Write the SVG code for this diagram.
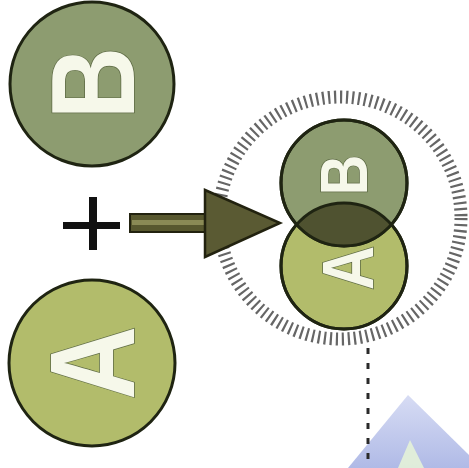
<svg xmlns="http://www.w3.org/2000/svg" width="469" height="468" viewBox="0 0 469 468">
<style>
.circ{stroke:#1f2412;stroke-width:3}
.circB{fill:#8d9c70}
.circA{fill:#b2bc6b}
.lbl{font-family:"Liberation Sans",Arial,sans-serif;font-weight:bold;fill:#f6f8ea;stroke:#5d6a44;stroke-width:1.5;paint-order:stroke;text-anchor:middle}
.ring{fill:none;stroke:#666666;stroke-width:13;stroke-dasharray:2.2 3.8}
.vdash{fill:none;stroke:#2a2a2a;stroke-width:3;stroke-dasharray:6 9}
</style>
<defs>
<clipPath id="clipA"><circle cx="344" cy="266" r="63"/></clipPath>
<linearGradient id="tri" x1="0" y1="0" x2="0" y2="1">
<stop offset="0" stop-color="#d0d6f2"/>
<stop offset="1" stop-color="#a2aee2"/>
</linearGradient>
</defs>
<rect width="469" height="468" fill="#ffffff"/>
<g id="blue-shape">
<polygon points="408,395 348,468 469,468 469,455" fill="url(#tri)" opacity="0.85"/>
<polygon points="410,440 398,468 424,468" fill="#e4f2d8" opacity="0.9"/>
</g>
<g id="connectors">
<circle class="ring" cx="340" cy="218" r="121"/>
<line class="vdash" x1="368" y1="348" x2="368" y2="468"/>
<g id="plus">
<rect x="63" y="222" width="57" height="7" fill="#111"/>
<rect x="89" y="197" width="8" height="53" fill="#111"/>
</g>
<g id="arrow">
<rect x="130" y="214" width="78" height="18" fill="#58582f" stroke="#22220f" stroke-width="2"/>
<rect x="132" y="220" width="76" height="5" fill="#8a8a55"/>
<polygon points="205,190 280,223 205,257" fill="#5a5a33" stroke="#22220f" stroke-width="2.5" stroke-linejoin="miter"/>
</g>
</g>
<g id="nodeB">
<circle class="circ circB" cx="92" cy="84" r="82"/>
<text class="lbl" font-size="118" transform="translate(92,83) rotate(-90) scale(0.85,1)" x="0" y="42">B</text>
</g>
<g id="nodeA">
<circle class="circ circA" cx="92" cy="363" r="83"/>
<text class="lbl" font-size="120" transform="translate(91,363) rotate(-90) scale(0.85,1)" x="0" y="43">A</text>
</g>
<g id="nodeAB">
<circle class="circ circA" cx="344" cy="266" r="63"/>
<text class="lbl" font-size="72" transform="translate(347,268) rotate(-90) scale(0.85,1)" x="0" y="26">A</text>
<circle class="circ circB" cx="344" cy="183" r="63"/>
<circle cx="344" cy="183" r="63" fill="#4f5230" clip-path="url(#clipA)"/>
<circle cx="344" cy="183" r="63" fill="none" stroke="#1f2412" stroke-width="3"/>
<circle cx="344" cy="266" r="63" fill="none" stroke="#1f2412" stroke-width="3"/>
<text class="lbl" font-size="66" transform="translate(343,175) rotate(-90) scale(0.85,1)" x="0" y="24">B</text>
</g>
</svg>
